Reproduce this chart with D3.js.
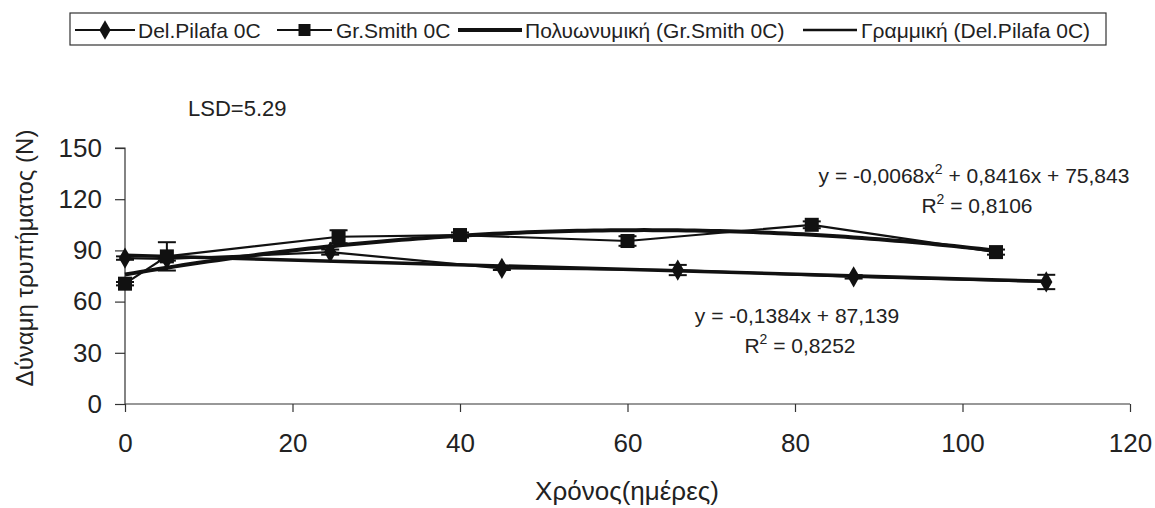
<!DOCTYPE html>
<html><head><meta charset="utf-8">
<script src="https://cdn.jsdelivr.net/npm/d3@7"></script>
<style>
html,body{margin:0;padding:0;background:#fff;}
svg{display:block;font-family:Arial,"Liberation Sans",sans-serif;}
</style></head>
<body><svg id="c" width="1155" height="508"></svg>
<script>
// ---- data ----
const xTickValues = [0, 20, 40, 60, 80, 100, 120];
const yTickValues = [0, 30, 60, 90, 120, 150];
const pilafaDays  = [0, 5, 24.5, 45, 66, 87, 110];
const pilafaForce = [85.5, 85, 89, 79.5, 78.5, 74.5, 71.5];
const pilafaErr   = [1, 1, 1.5, 1, 3, 1, 4.2];
const smithDays   = [0, 5, 25.5, 40, 60, 82, 104];
const smithForce  = [70.5, 86.5, 98, 99, 95.5, 105, 89];
const smithErr    = [1, 8.3, 3.8, 1.5, 2.8, 2, 1.5];
const polyCoef    = [75.843, 0.8416, -0.0068];   // Gr.Smith polynomial trend
const linCoef     = [87.139, -0.1384];           // Del.Pilafa linear trend
const legendLabels = ["Del.Pilafa 0C", "Gr.Smith 0C", "Πολυωνυμική (Gr.Smith 0C)", "Γραμμική (Del.Pilafa 0C)"];
const xTitle = "Χρόνος(ημέρες)";
const yTitle = "Δύναμη τρυπήματος (Ν)";
const lsdText = "LSD=5.29";
const polyEq = ["y = -0,0068x", "2", " + 0,8416x + 75,843"];
const polyR2 = "0,8106";
const linEq = "y = -0,1384x + 87,139";
const linR2 = "0,8252";

const svg = d3.select("#c");
const ink = "#111";
const x = d3.scaleLinear().domain([0, 120]).range([125, 1130]);
const y = d3.scaleLinear().domain([0, 150]).range([404, 148]);

// axes
const gx = svg.append("g").attr("transform", `translate(0,${y(0)})`)
  .call(d3.axisBottom(x).tickValues(xTickValues).tickSize(8).tickPadding(22).tickFormat(d3.format("d")));
const gy = svg.append("g").attr("transform", `translate(${x(0)},0)`)
  .call(d3.axisLeft(y).tickValues(yTickValues).tickSize(10).tickPadding(13).tickFormat(d3.format("d")));
[gx, gy].forEach(g => {
  g.select(".domain").attr("stroke", "#333").attr("stroke-width", 1.2);
  g.selectAll(".tick line").attr("stroke", "#333").attr("stroke-width", 1.2);
  g.selectAll(".tick text").attr("fill", "#222").style("font-size", "26px").style("font-family", "Arial, 'Liberation Sans', sans-serif");
});
gy.select(".domain").attr("d", `M-10,${y(150)}H0V${y(0)}`);
gx.select(".domain").attr("d", `M0,0H${x(120) - x(0)}`).attr("transform", `translate(${x(0)},0)`);

// titles
svg.append("text").attr("x", 627).attr("y", 500).attr("text-anchor", "middle")
  .style("font-size", "26px").attr("fill", "#222").text(xTitle);
svg.append("text").attr("transform", "translate(33,258) rotate(-90)").attr("text-anchor", "middle")
  .style("font-size", "24px").attr("fill", "#222").text(yTitle);
svg.append("text").attr("x", 188).attr("y", 116).style("font-size", "22px").attr("fill", "#222").text(lsdText);

// trendlines
const polyPts = d3.range(0, 104.5, 1).map(d => [d, polyCoef[0] + polyCoef[1] * d + polyCoef[2] * d * d]);
const linPts = [0, 110].map(d => [d, linCoef[0] + linCoef[1] * d]);
const line = d3.line().x(d => x(d[0])).y(d => y(d[1]));
svg.append("path").attr("d", line(polyPts)).attr("fill", "none").attr("stroke", ink).attr("stroke-width", 4);
svg.append("path").attr("d", line(linPts)).attr("fill", "none").attr("stroke", ink).attr("stroke-width", 3.5);

// series lines
const pil = pilafaDays.map((d, i) => [d, pilafaForce[i], pilafaErr[i]]);
const smi = smithDays.map((d, i) => [d, smithForce[i], smithErr[i]]);
svg.append("path").attr("d", line(pil)).attr("fill", "none").attr("stroke", ink).attr("stroke-width", 2.2);
svg.append("path").attr("d", line(smi)).attr("fill", "none").attr("stroke", ink).attr("stroke-width", 2.2);

// error bars
function errBars(data) {
  const g = svg.append("g").attr("stroke", ink).attr("stroke-width", 2);
  data.forEach(d => {
    const cx = x(d[0]), t = y(d[1] + d[2]), b = y(d[1] - d[2]);
    g.append("line").attr("x1", cx).attr("x2", cx).attr("y1", t).attr("y2", b);
    g.append("line").attr("x1", cx - 9).attr("x2", cx + 9).attr("y1", t).attr("y2", t);
    g.append("line").attr("x1", cx - 9).attr("x2", cx + 9).attr("y1", b).attr("y2", b);
  });
}
errBars(pil); errBars(smi);

// markers
const diamond = d3.symbol().type(d3.symbolDiamond2 || d3.symbolDiamond).size(150);
svg.append("g").selectAll("path").data(pil).join("path")
  .attr("transform", d => `translate(${x(d[0])},${y(d[1])}) rotate(0)`)
  .attr("d", d3.symbol().type(d3.symbolDiamond).size(130)).attr("fill", ink);
svg.append("g").selectAll("rect").data(smi).join("rect")
  .attr("x", d => x(d[0]) - 7).attr("y", d => y(d[1]) - 7).attr("width", 14).attr("height", 14).attr("fill", ink);

// equations
const eq1 = svg.append("text").attr("x", 974).attr("y", 183).attr("text-anchor", "middle")
  .style("font-size", "21px").attr("fill", "#222");
eq1.append("tspan").text(polyEq[0]);
eq1.append("tspan").attr("dy", -9).style("font-size", "14px").text(polyEq[1]);
eq1.append("tspan").attr("dy", 9).text(polyEq[2]);
const r1 = svg.append("text").attr("x", 977).attr("y", 213).attr("text-anchor", "middle")
  .style("font-size", "21px").attr("fill", "#222");
r1.append("tspan").text("R");
r1.append("tspan").attr("dy", -9).style("font-size", "14px").text("2");
r1.append("tspan").attr("dy", 9).text(" = " + polyR2);
svg.append("text").attr("x", 797).attr("y", 323).attr("text-anchor", "middle")
  .style("font-size", "21px").attr("fill", "#222").text(linEq);
const r2 = svg.append("text").attr("x", 800).attr("y", 353).attr("text-anchor", "middle")
  .style("font-size", "21px").attr("fill", "#222");
r2.append("tspan").text("R");
r2.append("tspan").attr("dy", -9).style("font-size", "14px").text("2");
r2.append("tspan").attr("dy", 9).text(" = " + linR2);

// legend
const lg = svg.append("g");
lg.append("rect").attr("x", 70).attr("y", 13).attr("width", 1036).attr("height", 32)
  .attr("fill", "#fff").attr("stroke", "#333").attr("stroke-width", 1.2);
const ly = 30;
const items = [
  {x1: 75, x2: 135, text: 138, type: "diamond", w: 2},
  {x1: 277, x2: 332, text: 336, type: "square", w: 2},
  {x1: 458, x2: 522, text: 525, type: "none", w: 4},
  {x1: 803, x2: 857, text: 861, type: "none", w: 2.5}
];
items.forEach((it, i) => {
  lg.append("line").attr("x1", it.x1).attr("x2", it.x2).attr("y1", ly).attr("y2", ly)
    .attr("stroke", ink).attr("stroke-width", it.w);
  const mx = (it.x1 + it.x2) / 2;
  if (it.type === "diamond")
    lg.append("path").attr("transform", `translate(${mx},${ly})`).attr("d", d3.symbol().type(d3.symbolDiamond).size(110)).attr("fill", ink);
  if (it.type === "square")
    lg.append("rect").attr("x", mx - 6).attr("y", ly - 6).attr("width", 12).attr("height", 12).attr("fill", ink);
  lg.append("text").attr("x", it.text).attr("y", ly + 8).style("font-size", "21px").attr("fill", "#222").text(legendLabels[i]);
});
</script></body></html>
